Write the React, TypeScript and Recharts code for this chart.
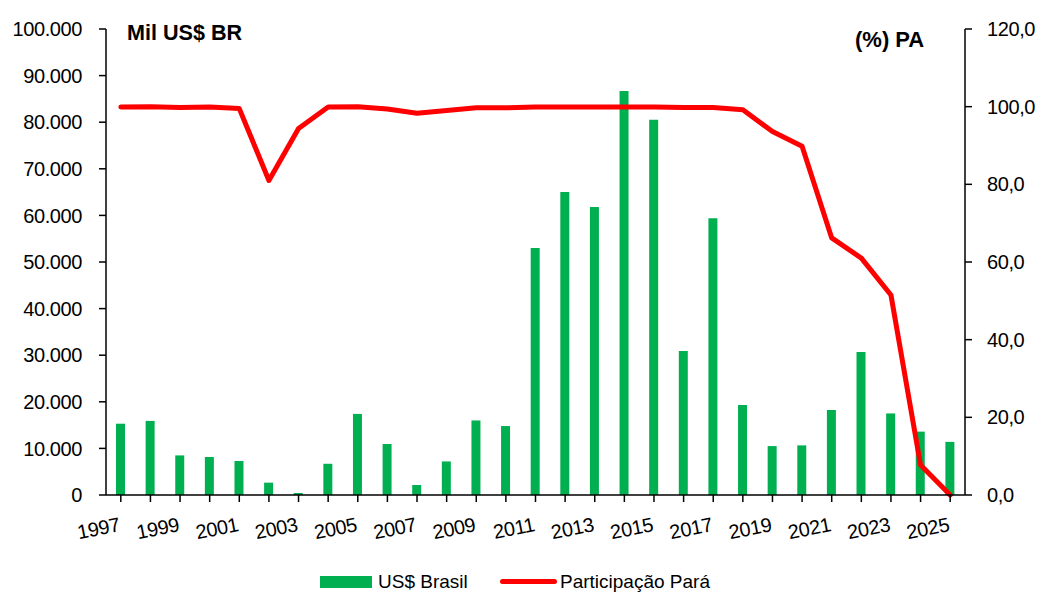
import { ComposedChart, Bar, Line, XAxis, YAxis } from 'recharts';

const years = [
  '1997', '1998', '1999', '2000', '2001', '2002', '2003', '2004', '2005', '2006',
  '2007', '2008', '2009', '2010', '2011', '2012', '2013', '2014', '2015', '2016',
  '2017', '2018', '2019', '2020', '2021', '2022', '2023', '2024', '2025',
];

// exports, thousand US$
const usBrasil = [
  15300, 15900, 8500, 8150, 7300, 2650, 430, 6700, 17400, 10950,
  2150, 7200, 16000, 14800, 53000, 65000, 61800, 86700, 80500, 30900,
  59400, 19300, 10500, 10650, 18250, 30700, 17500, 13600, 11400,
];

// share of Pará, %
const participacaoPara = [
  99.9, 100.0, 99.8, 99.9, 99.5, 81.0, 94.4, 99.9, 100.0, 99.4,
  98.3, 99.0, 99.7, 99.7, 99.9, 99.9, 99.9, 99.9, 99.9, 99.8,
  99.8, 99.2, 93.6, 89.8, 66.2, 61.0, 51.5, 7.7, 0.0,
];

const leftTicks = [0, 10000, 20000, 30000, 40000, 50000, 60000, 70000, 80000, 90000, 100000];
const rightTicks = [0, 20, 40, 60, 80, 100, 120];

const data = years.map((year, i) => ({
  year,
  brasil: usBrasil[i],
  para: participacaoPara[i],
}));

const FONT = '"Liberation Sans", Arial, sans-serif';
const GREEN = '#00B050';
const RED = '#FF0000';

const fmtThousands = (v: number) =>
  String(Math.round(v)).replace(/\B(?=(\d{3})+(?!\d))/g, '.');
const fmtPct = (v: number) => v.toFixed(1).replace('.', ',');

const tickStyle = { fill: '#000', fontSize: 20, fontFamily: FONT, letterSpacing: -0.4 };

function YearTick(props: any) {
  const { x, y, payload, index } = props;
  if (index % 2 !== 0) return null;
  return (
    <g transform={`translate(${x},${y + 27})`}>
      <text
        x={0}
        y={0}
        textAnchor="end"
        transform="rotate(-11)"
        fill="#000"
        fontSize={20}
        fontFamily={FONT}
        letterSpacing={-0.4}
      >
        {payload.value}
      </text>
    </g>
  );
}

export default function App() {
  return (
    <div style={{ position: 'absolute', left: 0, top: 0, width: 1039, height: 592, background: '#fff', fontFamily: FONT }}>
      <ComposedChart
        width={1039}
        height={592}
        data={data}
        margin={{ top: 29, right: 0, bottom: 37, left: 0 }}
      >
        <XAxis
          dataKey="year"
          interval={0}
          height={60}
          tickSize={7}
          tickMargin={2}
          tick={<YearTick />}
          axisLine={{ stroke: '#000', strokeWidth: 1.5 }}
          tickLine={{ stroke: '#000', strokeWidth: 1.5 }}
        />
        <YAxis
          yAxisId="left"
          orientation="left"
          width={106}
          domain={[0, 100000]}
          ticks={leftTicks}
          interval={0}
          tickFormatter={fmtThousands}
          tick={tickStyle}
          tickSize={7}
          tickMargin={17}
          axisLine={{ stroke: '#000', strokeWidth: 1.5 }}
          tickLine={{ stroke: '#000', strokeWidth: 1.5 }}
        />
        <YAxis
          yAxisId="right"
          orientation="right"
          width={74}
          domain={[0, 120]}
          ticks={rightTicks}
          interval={0}
          tickFormatter={fmtPct}
          tick={{ ...tickStyle, textAnchor: 'start' }}
          tickSize={7}
          tickMargin={15}
          axisLine={{ stroke: '#000', strokeWidth: 1.5 }}
          tickLine={{ stroke: '#000', strokeWidth: 1.5 }}
        />
        <Bar
          yAxisId="left"
          dataKey="brasil"
          fill={GREEN}
          barSize={9}
          isAnimationActive={false}
        />
        <Line
          yAxisId="right"
          type="linear"
          dataKey="para"
          stroke={RED}
          strokeWidth={5}
          dot={false}
          strokeLinejoin="round"
          strokeLinecap="round"
          isAnimationActive={false}
        />
      </ComposedChart>

      <div style={{ position: 'absolute', left: 127, top: 22, fontSize: 21.6, fontWeight: 700, lineHeight: 1, whiteSpace: 'nowrap' }}>
        Mil US$ BR
      </div>
      <div style={{ position: 'absolute', left: 855, top: 29, fontSize: 22, fontWeight: 700, lineHeight: 1, whiteSpace: 'nowrap' }}>
        (%) PA
      </div>

      <div style={{ position: 'absolute', left: 320, top: 576, width: 52, height: 12, background: GREEN }} />
      <div style={{ position: 'absolute', left: 378, top: 572, fontSize: 19, lineHeight: 1, whiteSpace: 'nowrap' }}>
        US$ Brasil
      </div>
      <div style={{ position: 'absolute', left: 500, top: 579, width: 57, height: 5, borderRadius: 3, background: RED }} />
      <div style={{ position: 'absolute', left: 560, top: 572, fontSize: 19, lineHeight: 1, whiteSpace: 'nowrap' }}>
        Participação Pará
      </div>
    </div>
  );
}
